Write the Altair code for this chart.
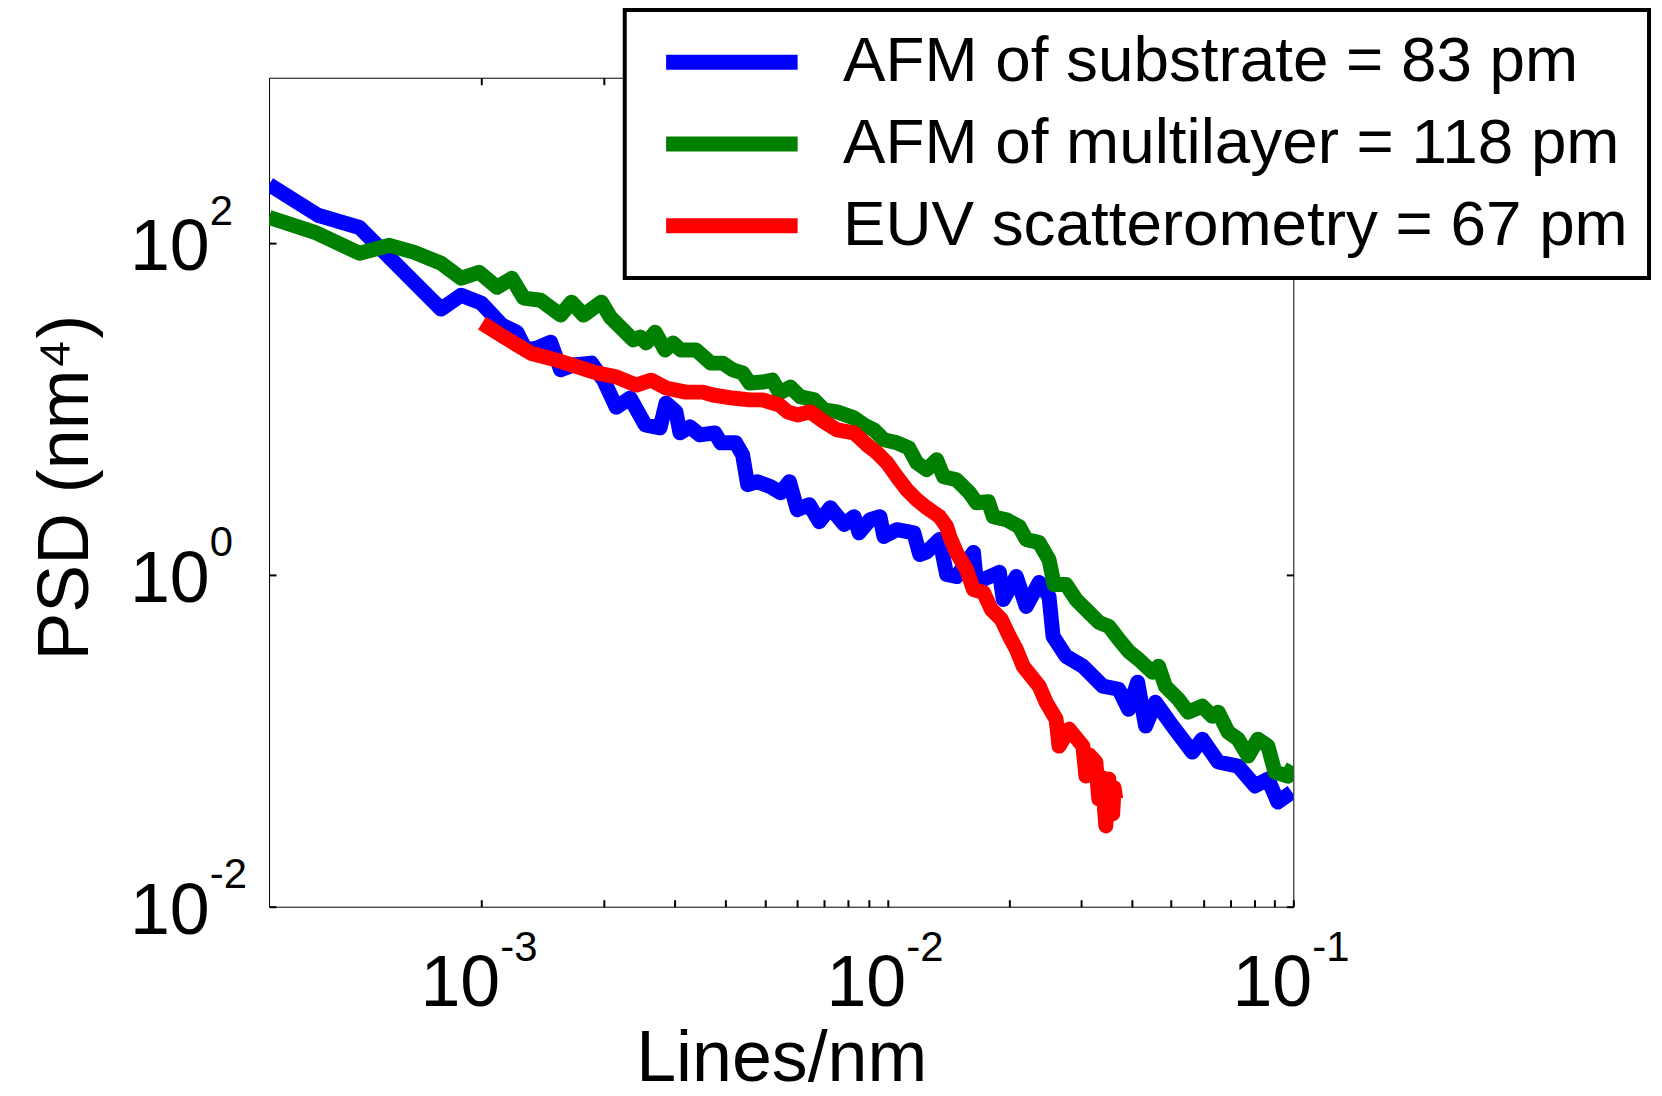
import altair as alt
import pandas as pd

# ---------------- data ----------------
substrate_freq = [3.0e-4, 3.96e-4, 5.01e-4, 7.96e-4, 8.92e-4, 1.0e-3, 1.124e-3, 1.223e-3, 1.287e-3, 1.369e-3,
                  1.482e-3, 1.568e-3, 1.688e-3, 1.867e-3, 2.0e-3, 2.15e-3, 2.326e-3, 2.533e-3, 2.756e-3, 2.85e-3,
                  3.016e-3, 3.085e-3, 3.264e-3, 3.453e-3, 3.76e-3, 3.89e-3, 4.23e-3, 4.40e-3, 4.53e-3, 4.79e-3,
                  5.16e-3, 5.46e-3, 5.74e-3, 6.0e-3, 6.42e-3, 6.80e-3, 7.24e-3, 7.83e-3, 8.28e-3, 8.52e-3,
                  9.07e-3, 9.59e-3, 9.81e-3, 1.056e-2, 1.162e-2, 1.202e-2, 1.25e-2, 1.345e-2, 1.40e-2, 1.48e-2,
                  1.63e-2, 1.658e-2, 1.888e-2, 1.93e-2, 2.078e-2, 2.198e-2, 2.366e-2, 2.502e-2, 2.56e-2, 2.755e-2,
                  3.032e-2, 3.394e-2, 3.715e-2, 3.93e-2, 4.135e-2, 4.326e-2, 4.577e-2, 5.04e-2, 5.64e-2, 5.97e-2,
                  6.53e-2, 7.31e-2, 8.05e-2, 8.66e-2, 9.16e-2, 9.92e-2]
substrate_psd = [227, 148, 125, 40.2, 48.8, 43.7, 32.2, 29.2, 22.8, 23.4,
                 25.4, 17.3, 18.5, 19.0, 15.0, 10.3, 11.7, 8.05, 7.73, 10.9,
                 9.64, 7.21, 7.84, 7.01, 7.21, 6.28, 6.28, 5.32, 3.51, 3.66,
                 3.41, 3.14, 3.66, 2.48, 2.66, 2.10, 2.55, 2.02, 2.25, 1.80,
                 2.16, 2.25, 1.71, 1.88, 1.80, 1.33, 1.38, 1.64, 1.01, 0.98,
                 1.37, 0.903, 1.04, 0.713, 0.98, 0.647, 0.903, 0.743, 0.427, 0.324,
                 0.282, 0.214, 0.205, 0.155, 0.226, 0.123, 0.171, 0.123, 0.0856, 0.1025,
                 0.0746, 0.0705, 0.0535, 0.0589, 0.0428, 0.0492]

multilayer_freq = [3.0e-4, 3.89e-4, 5.01e-4, 5.94e-4, 6.84e-4, 7.96e-4, 8.92e-4, 9.87e-4, 1.093e-3, 1.189e-3,
                   1.272e-3, 1.40e-3, 1.568e-3, 1.668e-3, 1.785e-3, 1.976e-3, 2.078e-3, 2.367e-3, 2.462e-3, 2.547e-3,
                   2.680e-3, 2.836e-3, 2.967e-3, 3.10e-3, 3.38e-3, 3.676e-3, 3.933e-3, 4.16e-3, 4.40e-3, 4.58e-3,
                   4.93e-3, 5.21e-3, 5.43e-3, 5.77e-3, 6.11e-3, 6.61e-3, 6.99e-3, 7.52e-3, 8.28e-3, 8.76e-3,
                   9.27e-3, 9.81e-3, 1.056e-2, 1.129e-2, 1.182e-2, 1.25e-2, 1.323e-2, 1.376e-2, 1.48e-2, 1.594e-2,
                   1.658e-2, 1.774e-2, 1.824e-2, 1.964e-2, 2.113e-2, 2.198e-2, 2.366e-2, 2.502e-2, 2.575e-2, 2.755e-2,
                   2.915e-2, 3.137e-2, 3.319e-2, 3.512e-2, 3.715e-2, 3.93e-2, 4.16e-2, 4.50e-2, 4.656e-2, 4.84e-2,
                   5.21e-2, 5.51e-2, 5.97e-2, 6.31e-2, 6.53e-2, 6.91e-2, 7.31e-2, 7.74e-2, 8.18e-2, 8.66e-2,
                   9.01e-2, 9.69e-2, 1.0e-1]
multilayer_psd = [143.8, 116.8, 87.3, 97.5, 88.5, 76.0, 61.7, 67.1, 54.5, 61.7,
                  46.8, 45.5, 37.0, 44.3, 37.0, 44.3, 36.0, 26.2, 27.3, 25.1,
                  29.2, 22.8, 25.1, 22.8, 22.8, 19.0, 19.0, 17.3, 16.6, 14.4,
                  14.6, 15.0, 12.55, 13.6, 11.9, 11.4, 9.92, 9.65, 8.88, 8.06,
                  7.52, 6.55, 6.28, 5.86, 4.76, 4.32, 4.96, 3.92, 3.76, 3.14,
                  2.73, 2.77, 2.25, 2.16, 1.96, 1.64, 1.57, 1.24, 0.878, 0.878,
                  0.713, 0.596, 0.519, 0.491, 0.41, 0.347, 0.3105, 0.259, 0.282, 0.2137,
                  0.1784, 0.149, 0.162, 0.141, 0.149, 0.113, 0.1025, 0.081, 0.1025, 0.093,
                  0.0649, 0.0614, 0.0705]

euv_freq = [1.004e-3, 1.137e-3, 1.324e-3, 1.533e-3, 1.921e-3, 2.15e-3, 2.407e-3, 2.62e-3, 2.85e-3, 3.19e-3,
            3.51e-3, 3.72e-3, 4.16e-3, 4.58e-3, 4.93e-3, 5.43e-3, 5.68e-3, 6.0e-3, 6.46e-3, 6.99e-3,
            7.52e-3, 8.28e-3, 8.91e-3, 9.43e-3, 9.98e-3, 1.056e-2, 1.117e-2, 1.182e-2, 1.25e-2, 1.345e-2,
            1.40e-2, 1.424e-2, 1.48e-2, 1.567e-2, 1.63e-2, 1.725e-2, 1.804e-2, 1.909e-2, 1.998e-2, 2.078e-2,
            2.161e-2, 2.366e-2, 2.461e-2, 2.604e-2, 2.648e-2, 2.803e-2, 3.032e-2, 3.084e-2, 3.15e-2, 3.264e-2,
            3.30e-2, 3.319e-2, 3.38e-2, 3.453e-2, 3.512e-2, 3.55e-2, 3.59e-2, 3.62e-2, 3.653e-2]
euv_psd = [33.1, 27.3, 21.8, 19.8, 16.6, 15.7, 14.0, 15.0, 13.45, 12.7,
           12.7, 12.2, 11.7, 11.4, 11.4, 10.6, 9.65, 9.25, 9.65, 8.40,
           7.52, 7.21, 6.11, 5.47, 4.76, 3.92, 3.27, 2.85, 2.55, 2.25,
           1.96, 1.71, 1.37, 1.08, 0.819, 0.786, 0.621, 0.541, 0.427, 0.357,
           0.282, 0.2137, 0.171, 0.1353, 0.093, 0.1178, 0.093, 0.0614, 0.082, 0.0746,
           0.052, 0.0446, 0.060, 0.0307, 0.0589, 0.040, 0.0363, 0.052, 0.0446]

series_names = ["AFM of substrate = 83 pm", "AFM of multilayer = 118 pm", "EUV scatterometry = 67 pm"]
series_colors = ["#0000ff", "#008000", "#ff0000"]

x_tick_values = [0.001, 0.002, 0.003, 0.004, 0.005, 0.006, 0.007, 0.008, 0.009,
                 0.01, 0.02, 0.03, 0.04, 0.05, 0.06, 0.07, 0.08, 0.09, 0.1]
y_tick_values = [0.01, 1, 100]
x_label_values = [0.001, 0.01, 0.1]
x_label_exponents = ["-3", "-2", "-1"]
y_label_values = [0.01, 1, 100]
y_label_exponents = ["-2", "0", "2"]

x_title = "Lines/nm"
y_title = "PSD (nm\u2074)"

# ---------------- chart ----------------
FONT = "Liberation Sans"
W, H = 1028, 832

xscale = alt.Scale(type="log", domain=[3e-4, 0.1], nice=False)
yscale = alt.Scale(type="log", domain=[0.01, 1000], nice=False)
cscale = alt.Scale(domain=series_names, range=series_colors)

legend = alt.Legend(
    title=None, orient="none", legendX=357, legendY=-68,
    symbolType="M-4,0L4,0", symbolSize=1089, symbolStrokeWidth=15,
    symbolOffset=55, labelOffset=79.5,
    labelFont=FONT, labelFontSize=64, labelColor="black", labelLimit=0,
    padding=20.5, rowPadding=18, strokeColor="black", fillColor="white",
)

tick_style = dict(domain=False, grid=False, labels=False, ticks=True,
                  tickColor="black", tickWidth=2, tickSize=7)

axis_x_bottom = alt.Axis(orient="top", offset=-H, values=x_tick_values, title=x_title,
                         titleX=W / 2, titleY=174, titleAlign="center",
                         titleBaseline="alphabetic", titleAngle=0, **tick_style)
axis_x_top = alt.Axis(orient="bottom", offset=-H, values=x_tick_values, title=None, **tick_style)
axis_y_left = alt.Axis(orient="right", offset=-W, values=y_tick_values, title=y_title,
                       titleX=-182, titleY=411, titleAngle=270, titleAlign="center",
                       titleBaseline="alphabetic", **tick_style)
axis_y_right = alt.Axis(orient="left", offset=-W, values=y_tick_values, title=None, **tick_style)


def line_layer(freq, psd, name, xaxis, yaxis):
    df = pd.DataFrame({"freq": freq, "psd": psd, "series": name})
    return alt.Chart(df).mark_line(
        clip=True, strokeWidth=15, strokeJoin="round", strokeCap="butt"
    ).encode(
        x=alt.X("freq:Q", scale=xscale, axis=xaxis),
        y=alt.Y("psd:Q", scale=yscale, axis=yaxis),
        color=alt.Color("series:N", scale=cscale, legend=legend),
    )


blue = line_layer(substrate_freq, substrate_psd, series_names[0], axis_x_bottom, axis_y_left)
green = line_layer(multilayer_freq, multilayer_psd, series_names[1], axis_x_top, axis_y_right)
red = line_layer(euv_freq, euv_psd, series_names[2], None, None)

xlab = pd.DataFrame({"v": x_label_values, "e": x_label_exponents})
ylab = pd.DataFrame({"v": y_label_values, "e": y_label_exponents})

x_base = alt.Chart(xlab).mark_text(
    align="right", baseline="alphabetic", dx=19, dy=100, fontSize=72, font=FONT, color="black"
).encode(
    x=alt.X("v:Q", scale=xscale, axis=None),
    y=alt.YDatum(0.01, type="quantitative", axis=None),
    text=alt.value("10"),
)
x_exp = alt.Chart(xlab).mark_text(
    align="left", baseline="alphabetic", dx=19, dy=54, fontSize=42, font=FONT, color="black"
).encode(
    x=alt.X("v:Q", scale=xscale, axis=None),
    y=alt.YDatum(0.01, type="quantitative", axis=None),
    text="e:N",
)
y_base = alt.Chart(ylab).mark_text(
    align="right", baseline="alphabetic", dx=-59.5, dy=27, fontSize=72, font=FONT, color="black"
).encode(
    x=alt.XDatum(3e-4, type="quantitative", axis=None),
    y=alt.Y("v:Q", scale=yscale, axis=None),
    text=alt.value("10"),
)
y_exp = alt.Chart(ylab).mark_text(
    align="left", baseline="alphabetic", dx=-59.5, dy=-19, fontSize=42, font=FONT, color="black"
).encode(
    x=alt.XDatum(3e-4, type="quantitative", axis=None),
    y=alt.Y("v:Q", scale=yscale, axis=None),
    text="e:N",
)

chart = alt.layer(blue, green, red, x_base, x_exp, y_base, y_exp).resolve_axis(
    x="independent", y="independent"
).properties(
    width=W, height=H,
    autosize=alt.AutoSizeParams(type="none"),
    padding={"left": 262, "top": 68, "right": 362, "bottom": 188},
    background="white",
).configure_view(
    stroke="black", strokeWidth=1
).configure_axis(
    titleFont=FONT, titleFontSize=72, titleFontWeight="normal", titleColor="black"
).configure_legend(
    strokeWidth=4
)

chart.save("out.html", embed_options={"renderer": "svg", "actions": False})
